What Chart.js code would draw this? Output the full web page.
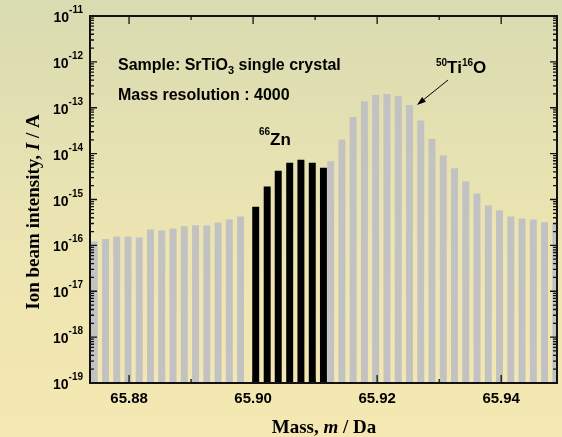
<!DOCTYPE html>
<html lang="en">
<head>
<meta charset="UTF-8">
<title>Ion beam intensity around 66Zn</title>
<script src="https://cdn.jsdelivr.net/npm/chart.js@4.4.1/dist/chart.umd.min.js"></script>
<style>
  * { margin: 0; padding: 0; box-sizing: border-box; }
  html, body { width: 562px; height: 437px; overflow: hidden; }
  body { background: linear-gradient(to bottom, #d9dbb1 0%, #ebe4b2 50%, #f5e8b2 100%); }
  canvas { display: block; }
</style>
</head>
<body>
<canvas id="chart" width="562" height="437"></canvas>
<script>
// 50Ti16O scan (gray) — mass in Da, intensity in A
const tiMass = [65.87438, 65.87620, 65.87801, 65.87983, 65.88164, 65.88346, 65.88527,
                65.88709, 65.88890, 65.89072, 65.89253, 65.89435, 65.89616, 65.89798,
                65.91250, 65.91432, 65.91613, 65.91795, 65.91976, 65.92158, 65.92340,
                65.92521, 65.92703, 65.92884, 65.93066, 65.93247, 65.93429, 65.93610,
                65.93792, 65.93973, 65.94155, 65.94336, 65.94518, 65.94699, 65.94881];
const tiIntensity = [1.2e-16, 1.36e-16, 1.53e-16, 1.53e-16, 1.46e-16, 2.18e-16, 2.07e-16,
                     2.29e-16, 2.57e-16, 2.71e-16, 2.67e-16, 3.10e-16, 3.61e-16, 4.19e-16,
                     6.7e-15, 2.0e-14, 6.2e-14, 1.36e-13, 1.87e-13, 1.96e-13, 1.77e-13,
                     1.13e-13, 5.2e-14, 2.08e-14, 9.0e-15, 4.7e-15, 2.47e-15, 1.33e-15,
                     7.3e-16, 5.7e-16, 4.2e-16, 3.8e-16, 3.6e-16, 3.15e-16, 3.0e-16];

// 66Zn (black)
const znMass = [65.90042, 65.90227, 65.90405, 65.90590, 65.90771, 65.90954, 65.91134];
const znIntensity = [6.8e-16, 1.88e-15, 4.17e-15, 6.23e-15, 7.25e-15, 6.23e-15, 4.85e-15];

const xTicks = [65.88, 65.90, 65.92, 65.94];
const xTickLabels = ['65.88', '65.90', '65.92', '65.94'];
const xMinorTicks = [65.89, 65.91, 65.93];
const yExponents = [-19, -18, -17, -16, -15, -14, -13, -12, -11];

const SANS = '"Liberation Sans", Arial, sans-serif';
const SERIF = '"Liberation Serif", "Times New Roman", serif';

// draw a run of text pieces: [text, size, dy, style]
function drawRuns(ctx, runs, x, y, align, family) {
    let total = 0;
    runs.forEach(r => {
        ctx.font = (r[3] || 'bold') + ' ' + r[1] + 'px ' + family;
        r.w = ctx.measureText(r[0]).width;
        total += r.w;
    });
    let cx = align === 'right' ? x - total : align === 'center' ? x - total / 2 : x;
    runs.forEach(r => {
        ctx.font = (r[3] || 'bold') + ' ' + r[1] + 'px ' + family;
        ctx.fillText(r[0], cx, y + (r[2] || 0));
        cx += r.w;
    });
}

const framePlugin = {
    id: 'frame',
    afterDatasetsDraw(chart) {
        const { ctx, chartArea: a, scales: { x, y } } = chart;
        ctx.save();
        ctx.strokeStyle = '#111';
        ctx.lineWidth = 1.3;
        ctx.beginPath();
        // y ticks, left and right, pointing in
        yExponents.forEach((e, i) => {
            const py = y.getPixelForValue(Math.pow(10, e));
            ctx.moveTo(a.left, py); ctx.lineTo(a.left + 7, py);
            ctx.moveTo(a.right, py); ctx.lineTo(a.right - 7, py);
            if (i < yExponents.length - 1) {
                for (let k = 2; k <= 9; k++) {
                    const my = y.getPixelForValue(k * Math.pow(10, e));
                    ctx.moveTo(a.left, my); ctx.lineTo(a.left + 4, my);
                    ctx.moveTo(a.right, my); ctx.lineTo(a.right - 4, my);
                }
            }
        });
        // x ticks, bottom and top
        xTicks.forEach(v => {
            const px = x.getPixelForValue(v);
            ctx.moveTo(px, a.bottom); ctx.lineTo(px, a.bottom - 8);
            ctx.moveTo(px, a.top); ctx.lineTo(px, a.top + 8);
        });
        xMinorTicks.forEach(v => {
            const px = x.getPixelForValue(v);
            ctx.moveTo(px, a.bottom); ctx.lineTo(px, a.bottom - 4);
            ctx.moveTo(px, a.top); ctx.lineTo(px, a.top + 4);
        });
        ctx.stroke();
        ctx.lineWidth = 2;
        ctx.strokeRect(a.left, a.top, a.right - a.left, a.bottom - a.top);
        ctx.restore();
    },
    afterDraw(chart) {
        const { ctx, chartArea: a, scales: { x, y } } = chart;
        ctx.save();
        ctx.fillStyle = '#000';
        ctx.textBaseline = 'alphabetic';

        // y tick labels 10^n
        yExponents.forEach(e => {
            const py = y.getPixelForValue(Math.pow(10, e));
            drawRuns(ctx, [['10', 14, 6], [String(e), 10, -3]], a.left - 7, py, 'right', SANS);
        });
        // x tick labels
        xTicks.forEach((v, i) => {
            drawRuns(ctx, [[xTickLabels[i], 15, 0]], x.getPixelForValue(v), 403, 'center', SANS);
        });

        // axis titles
        drawRuns(ctx, [['Mass, ', 19, 0], ['m', 19, 0, 'italic bold'], [' / Da', 19, 0]], 324, 433, 'center', SERIF);
        ctx.save();
        ctx.translate(39, 212);
        ctx.rotate(-Math.PI / 2);
        drawRuns(ctx, [['Ion beam intensity, ', 19, 0], ['I', 19, 0, 'italic bold'], [' / A', 19, 0]], 0, 0, 'center', SERIF);
        ctx.restore();

        // annotations
        drawRuns(ctx, [['Sample: SrTiO', 16, 0], ['3', 11, 4], [' single crystal', 16, 0]], 118, 70, 'left', SANS);
        drawRuns(ctx, [['Mass resolution : 4000', 16, 0]], 118, 100, 'left', SANS);
        drawRuns(ctx, [['66', 10, -10], ['Zn', 17, 0]], 259, 145, 'left', SANS);
        drawRuns(ctx, [['50', 10, -7], ['Ti', 17, 0], ['16', 10, -7], ['O', 17, 0]], 436, 73, 'left', SANS);

        // arrow to the Ti peak
        const x0 = 448, y0 = 80, x1 = 417, y1 = 105;
        const ang = Math.atan2(y1 - y0, x1 - x0);
        ctx.strokeStyle = '#000';
        ctx.lineWidth = 1;
        ctx.beginPath();
        ctx.moveTo(x0, y0); ctx.lineTo(x1 - 5 * Math.cos(ang), y1 - 5 * Math.sin(ang));
        ctx.stroke();
        ctx.beginPath();
        ctx.moveTo(x1, y1);
        ctx.lineTo(x1 - 9 * Math.cos(ang) + 3 * Math.sin(ang), y1 - 9 * Math.sin(ang) - 3 * Math.cos(ang));
        ctx.lineTo(x1 - 9 * Math.cos(ang) - 3 * Math.sin(ang), y1 - 9 * Math.sin(ang) + 3 * Math.cos(ang));
        ctx.closePath();
        ctx.fill();
        ctx.restore();
    }
};

new Chart(document.getElementById('chart'), {
    type: 'bar',
    data: {
        datasets: [{
            label: '50Ti16O',
            data: tiMass.map((m, i) => ({ x: m, y: tiIntensity[i] })),
            backgroundColor: '#c2c2c2',
            barThickness: 6.3,
            grouped: false
        }, {
            label: '66Zn',
            data: znMass.map((m, i) => ({ x: m, y: znIntensity[i] })),
            backgroundColor: '#000000',
            barThickness: 6.3,
            grouped: false
        }]
    },
    options: {
        responsive: false,
        animation: false,
        layout: { padding: { left: 90, top: 16, right: 5, bottom: 54 } },
        scales: {
            x: { type: 'linear', display: false, min: 65.8737, max: 65.949, offset: false },
            y: { type: 'logarithmic', display: false, min: 1e-19, max: 1e-11 }
        },
        plugins: {
            legend: { display: false },
            tooltip: { enabled: false }
        }
    },
    plugins: [framePlugin]
});
</script>
</body>
</html>
